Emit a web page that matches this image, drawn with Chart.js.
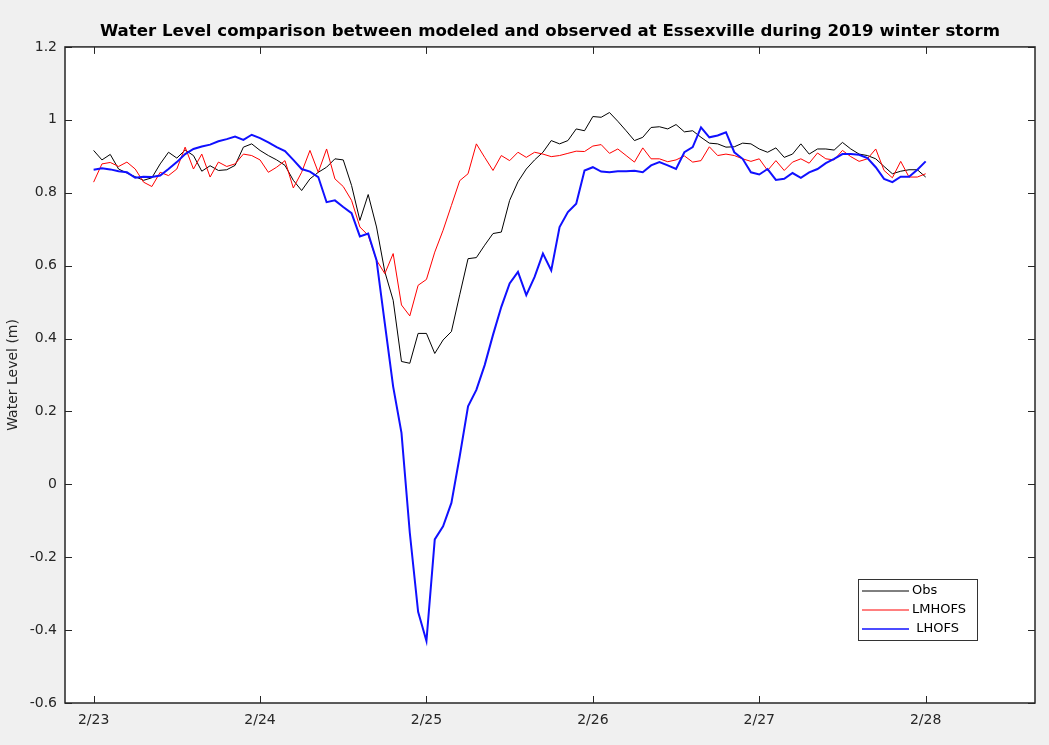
<!DOCTYPE html>
<html>
<head>
<meta charset="utf-8">
<title>Water Level comparison</title>
<script src="https://cdn.jsdelivr.net/npm/chart.js@4.4.1/dist/chart.umd.min.js"></script>
<style>
  body { margin: 0; background: #f0f0f0; }
  #wrap { width: 1049px; height: 745px; }
</style>
</head>
<body>
<div id="wrap"><canvas id="mychart"></canvas></div>
<script>
// time in days since 2/23 00:00
const days = [0,0.05,0.1,0.15,0.2,0.25,0.3,0.35,0.4,0.45,0.5,0.55,0.6,0.65,0.7,0.75,0.8,0.85,0.9,0.95,
  1,1.05,1.1,1.15,1.2,1.25,1.3,1.35,1.4,1.45,1.5,1.55,1.6,1.65,1.7,1.75,1.8,1.85,1.9,1.95,
  2,2.05,2.1,2.15,2.2,2.25,2.3,2.35,2.4,2.45,2.5,2.55,2.6,2.65,2.7,2.75,2.8,2.85,2.9,2.95,
  3,3.05,3.1,3.15,3.2,3.25,3.3,3.35,3.4,3.45,3.5,3.55,3.6,3.65,3.7,3.75,3.8,3.85,3.9,3.95,
  4,4.05,4.1,4.15,4.2,4.25,4.3,4.35,4.4,4.45,4.5,4.55,4.6,4.65,4.7,4.75,4.8,4.85,4.9,4.95,5];

// observed water level (m)
const obs = [0.916,0.890,0.905,0.865,0.854,0.844,0.834,0.841,0.879,0.911,0.895,0.917,0.902,0.859,0.874,0.861,0.863,0.875,0.925,0.934,
  0.916,0.902,0.890,0.875,0.834,0.806,0.838,0.856,0.870,0.893,0.890,0.820,0.724,0.795,0.706,0.583,0.505,0.337,0.332,0.414,
  0.414,0.359,0.396,0.419,0.520,0.619,0.622,0.656,0.688,0.692,0.779,0.830,0.865,0.890,0.911,0.943,0.934,0.943,0.975,0.970,
  1.009,1.007,1.020,0.996,0.970,0.943,0.952,0.979,0.981,0.975,0.987,0.967,0.970,0.952,0.936,0.934,0.925,0.926,0.936,0.934,
  0.920,0.911,0.923,0.897,0.906,0.934,0.906,0.920,0.920,0.917,0.938,0.920,0.906,0.902,0.893,0.872,0.852,0.859,0.863,0.863,0.843];

// LMHOFS model
const lmhofs = [0.829,0.879,0.883,0.872,0.884,0.865,0.829,0.817,0.856,0.847,0.865,0.925,0.865,0.906,0.843,0.884,0.872,0.879,0.906,0.902,
  0.890,0.856,0.870,0.888,0.813,0.856,0.916,0.856,0.920,0.838,0.817,0.779,0.706,0.683,0.615,0.578,0.633,0.492,0.462,0.546,
  0.562,0.637,0.697,0.765,0.833,0.852,0.934,0.897,0.861,0.902,0.888,0.911,0.897,0.911,0.906,0.899,0.902,0.908,0.914,0.913,
  0.928,0.932,0.908,0.920,0.902,0.884,0.923,0.893,0.893,0.885,0.890,0.901,0.884,0.888,0.926,0.902,0.906,0.902,0.893,0.886,
  0.893,0.861,0.888,0.861,0.884,0.893,0.881,0.909,0.893,0.890,0.916,0.899,0.886,0.893,0.920,0.861,0.841,0.886,0.843,0.843,0.852];

// LHOFS model
const lhofs = [0.863,0.867,0.864,0.859,0.856,0.841,0.844,0.843,0.847,0.865,0.884,0.906,0.920,0.927,0.932,0.941,0.947,0.954,0.945,0.959,
  0.950,0.938,0.925,0.914,0.890,0.865,0.858,0.843,0.774,0.779,0.761,0.744,0.680,0.688,0.615,0.441,0.268,0.141,-0.133,-0.350,
  -0.430,-0.151,-0.115,-0.051,0.077,0.214,0.259,0.327,0.410,0.487,0.551,0.583,0.519,0.569,0.633,0.587,0.706,0.747,0.770,0.861,
  0.870,0.858,0.856,0.859,0.859,0.860,0.856,0.875,0.884,0.875,0.865,0.911,0.925,0.979,0.952,0.957,0.966,0.911,0.893,0.856,
  0.850,0.865,0.835,0.838,0.854,0.841,0.856,0.865,0.881,0.893,0.906,0.906,0.904,0.895,0.870,0.838,0.829,0.844,0.844,0.863,0.886];

const xTicks = [0, 1, 2, 3, 4, 5];
const xTickLabels = ['2/23', '2/24', '2/25', '2/26', '2/27', '2/28'];
const yTicks = [-0.6, -0.4, -0.2, 0, 0.2, 0.4, 0.6, 0.8, 1, 1.2];
const yTickLabels = ['-0.6', '-0.4', '-0.2', '0', '0.2', '0.4', '0.6', '0.8', '1', '1.2'];

function pts(vals) {
  return vals.map((v, i) => ({ x: days[i], y: v }));
}

const axisColor = '#262626';
const labelFont = { family: 'DejaVu Sans', size: 14 };

// white plot box, inward ticks on all four sides, legend box
const matlabAxes = {
  id: 'matlabAxes',
  beforeDraw(chart) {
    const a = chart.chartArea;
    const ctx = chart.ctx;
    ctx.save();
    ctx.fillStyle = '#ffffff';
    ctx.fillRect(a.left, a.top, a.right - a.left, a.bottom - a.top);
    ctx.restore();
  },
  afterDatasetsDraw(chart) {
    const a = chart.chartArea;
    const ctx = chart.ctx;
    const xs = chart.scales.x, ys = chart.scales.y;
    ctx.save();
    ctx.strokeStyle = axisColor;
    ctx.lineWidth = 1;
    ctx.beginPath();
    xTicks.forEach(v => {
      const px = Math.round(xs.getPixelForValue(v)) + 0.5;
      ctx.moveTo(px, a.bottom); ctx.lineTo(px, a.bottom - 7);
      ctx.moveTo(px, a.top); ctx.lineTo(px, a.top + 7);
    });
    yTicks.forEach(v => {
      const py = Math.round(ys.getPixelForValue(v)) + 0.5;
      ctx.moveTo(a.left, py); ctx.lineTo(a.left + 7, py);
      ctx.moveTo(a.right, py); ctx.lineTo(a.right - 7, py);
    });
    ctx.stroke();
    ctx.lineWidth = 1.5;
    ctx.strokeRect(a.left, a.top, a.right - a.left, a.bottom - a.top);

    // legend, lower right inside the axes
    const bx = a.right - 177, by = a.bottom - 124, bw = 119, bh = 61;
    ctx.fillStyle = '#ffffff';
    ctx.fillRect(bx, by, bw, bh);
    ctx.lineWidth = 1;
    ctx.strokeStyle = '#333333';
    ctx.strokeRect(bx + 0.5, by + 0.5, bw, bh);
    ctx.font = '13px "DejaVu Sans"';
    ctx.textBaseline = 'middle';
    chart.data.datasets.forEach((ds, i) => {
      const ly = by + 12 + i * 19;
      ctx.strokeStyle = ds.borderColor;
      ctx.lineWidth = ds.borderWidth > 1 ? 1.5 : 1;
      ctx.beginPath();
      ctx.moveTo(bx + 4, ly); ctx.lineTo(bx + 51, ly);
      ctx.stroke();
      ctx.fillStyle = '#000000';
      ctx.fillText(ds.label, bx + 54, ly);
    });
    ctx.restore();
  }
};

new Chart(document.getElementById('mychart'), {
  type: 'line',
  data: {
    datasets: [
      { label: 'Obs', data: pts(obs), borderColor: '#000000', borderWidth: 1, order: 3 },
      { label: 'LMHOFS', data: pts(lmhofs), borderColor: '#ff0000', borderWidth: 1, order: 2 },
      { label: ' LHOFS', data: pts(lhofs), borderColor: '#1010ff', borderWidth: 2, order: 1 }
    ]
  },
  options: {
    responsive: true,
    maintainAspectRatio: false,
    animation: false,
    elements: { point: { radius: 0 }, line: { tension: 0 } },
    layout: { padding: { left: 5, right: 14, top: 0, bottom: 0 } },
    plugins: {
      legend: { display: false },
      tooltip: { enabled: false },
      title: {
        display: true,
        fullSize: false,
        text: 'Water Level comparison between modeled and observed at Essexville during 2019 winter storm',
        color: '#000000',
        font: { family: 'DejaVu Sans', size: 16.6, weight: 'bold' },
        padding: { top: 22, bottom: 5 }
      }
    },
    scales: {
      x: {
        type: 'linear',
        min: -0.172,
        max: 5.657,
        grid: { display: false, drawTicks: false },
        border: { display: false },
        afterBuildTicks: s => { s.ticks = xTicks.map(v => ({ value: v })); },
        afterFit: s => { s.height = 42; },
        ticks: {
          padding: 9,
          color: axisColor,
          font: labelFont,
          autoSkip: false,
          maxRotation: 0,
          callback: (v) => xTickLabels[xTicks.indexOf(v)]
        }
      },
      y: {
        min: -0.6,
        max: 1.2,
        grid: { display: false, drawTicks: false },
        border: { display: false },
        afterBuildTicks: s => { s.ticks = yTicks.map(v => ({ value: v })); },
        afterFit: s => { s.width = 60; },
        ticks: {
          padding: 8,
          color: axisColor,
          font: labelFont,
          callback: (v) => yTickLabels[yTicks.indexOf(v)]
        },
        title: {
          display: true,
          text: 'Water Level (m)',
          color: axisColor,
          font: { family: 'DejaVu Sans', size: 14 },
          padding: { top: 0, bottom: 0 }
        }
      }
    }
  },
  plugins: [matlabAxes]
});
</script>
</body>
</html>
